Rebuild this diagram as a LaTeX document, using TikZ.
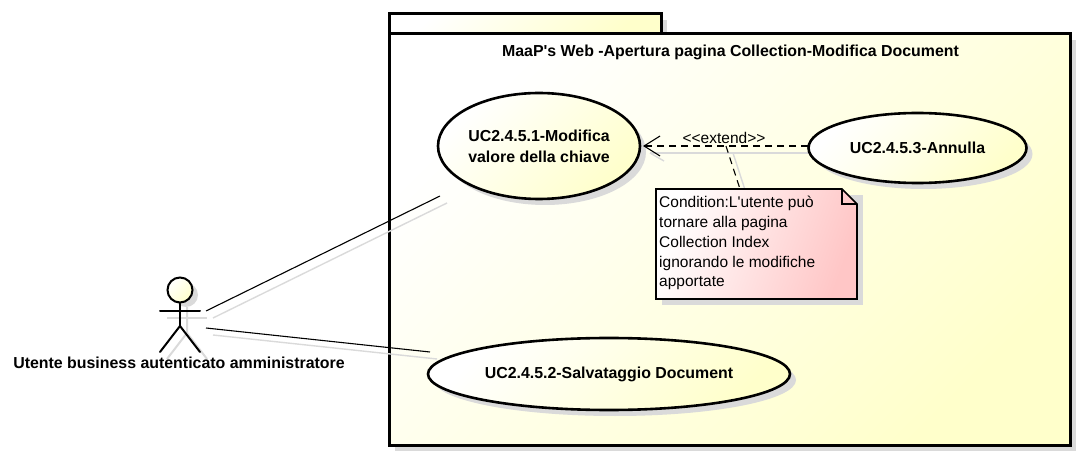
\documentclass[tikz,border=0pt]{standalone}
\usepackage{fontspec}
\setmainfont{Liberation Sans}
\usetikzlibrary{arrows.meta}
\usetikzlibrary{shadows}
\usetikzlibrary{shapes.geometric}
\definecolor{paleyellow}{HTML}{FFFFCB}
\definecolor{palepink}{HTML}{FFC6C6}
\definecolor{shadowgray}{HTML}{DADADA}
\tikzset{>={Straight Barb[length=16pt,width=20pt]}}
\tikzset{
  gradyellow/.style={top color=white, bottom color=paleyellow, shading angle=45},
  usecase/.style={ellipse, draw, line width=2.6pt, inner sep=0pt, gradyellow, align=center,
    drop shadow={shadow xshift=6pt, shadow yshift=-6pt, fill=shadowgray, opacity=1},
    font=\fontsize{15.9}{21}\selectfont\bfseries},
  plainline/.style={line width=1.1pt},
  ghostline/.style={line width=1.4pt, draw=shadowgray},
  limbs/.style={line width=2pt, line cap=round},
}
\begin{document}
\begin{tikzpicture}[x=1pt, y=-1pt]
\useasboundingbox (0, -1) rectangle (1082, 456);
% package
\fill[shadowgray] (395, 39) rectangle (1076, 450);
\fill[shadowgray] (395, 19) rectangle (667, 39);
\draw[line width=3pt, gradyellow] (389, 13) rectangle (661, 33);
\draw[line width=3pt, gradyellow] (389, 33) rectangle (1070, 444);
\node[font=\fontsize{15.9}{18}\selectfont\bfseries] (title) at (730.5, 51.5) {MaaP\textquotesingle s Web -Apertura pagina Collection-Modifica Document};
% free ends of the connectors
\coordinate (leftA) at (206, 310);
\coordinate (endA) at (440, 195);
\coordinate (leftB) at (206, 327);
\coordinate (endB) at (430, 351);
\coordinate (extTip) at (643, 145);
\coordinate (extEnd) at (808, 145);
\coordinate (linkTop) at (726, 145);
\coordinate (linkEnd) at (740, 188);
% connector shadows
\draw[ghostline] ([shift={(7, 7)}]leftA) -- ([shift={(7, 7)}]endA);
\draw[ghostline] ([shift={(7, 7)}]leftB) -- ([shift={(7, 7)}]endB);
\draw[ghostline] ([shift={(7, 7)}]extTip) -- ([shift={(7, 7)}]extEnd);
\draw[ghostline] ([shift={(7, 7)}]extTip) -- (664, 160);
\draw[ghostline] ([shift={(7, 7)}]linkTop) -- ([shift={(7, 7)}]linkEnd);
% use cases
\node[usecase, minimum width=202pt, minimum height=106pt] (ucMod) at (539, 145) {UC2.4.5.1-Modifica\\valore della chiave};
\node[usecase, minimum width=362pt, minimum height=72pt] (ucSave) at (609, 373) {UC2.4.5.2-Salvataggio Document};
\node[usecase, minimum width=218pt, minimum height=70pt] (ucUndo) at (917.5, 147) {UC2.4.5.3-Annulla};
% note
\fill[shadowgray] (662, 194) rectangle (863, 304);
\draw[line width=1.6pt, top color=white, bottom color=palepink, shading angle=70] (656, 188) -- (842, 188) -- (857, 203) -- (857, 298) -- (656, 298) -- cycle;
\draw[line width=1.6pt] (842, 188) -- (842, 203) -- (857, 203);
\node[anchor=north west, inner sep=0pt, align=left, font=\fontsize{15.5}{19.8}\selectfont] (noteText) at (659, 195) {Condition:L\textquotesingle utente può\\tornare alla pagina\\Collection Index\\ignorando le modifiche\\apportate};
% connectors
\draw[plainline] (leftA) -- (endA);
\draw[plainline] (leftB) -- (endB);
\draw[->, plainline, dash pattern=on 7pt off 5pt] (extEnd) -- (extTip);
\draw[plainline, dash pattern=on 7pt off 5pt] (linkTop) -- (linkEnd);
\node[font=\fontsize{15.5}{16}\selectfont] (extLabel) at (724, 137) {<{}<extend>{}>};
% actor
\fill[shadowgray] (186, 294) circle (12pt);
\draw[ghostline, line width=2pt] (167, 317) -- (207, 317);
\draw[ghostline, line width=2pt] (187, 306) -- (187, 332) -- (167, 358);
\draw[ghostline, line width=2pt] (187, 332) -- (207, 358);
\node[circle, draw, line width=2pt, minimum size=25pt, inner sep=0pt, gradyellow] (head) at (180, 289) {};
\coordinate (hip) at (180, 325);
\draw[limbs] (head) -- (hip);
\draw[limbs] (160, 310) -- (200, 310);
\draw[limbs] (hip) -- (160, 351);
\draw[limbs] (hip) -- (200, 351);
\node[font=\fontsize{15.9}{18}\selectfont\bfseries] (actorLabel) at (179, 362) {Utente business autenticato amministratore};
\end{tikzpicture}
\end{document}
